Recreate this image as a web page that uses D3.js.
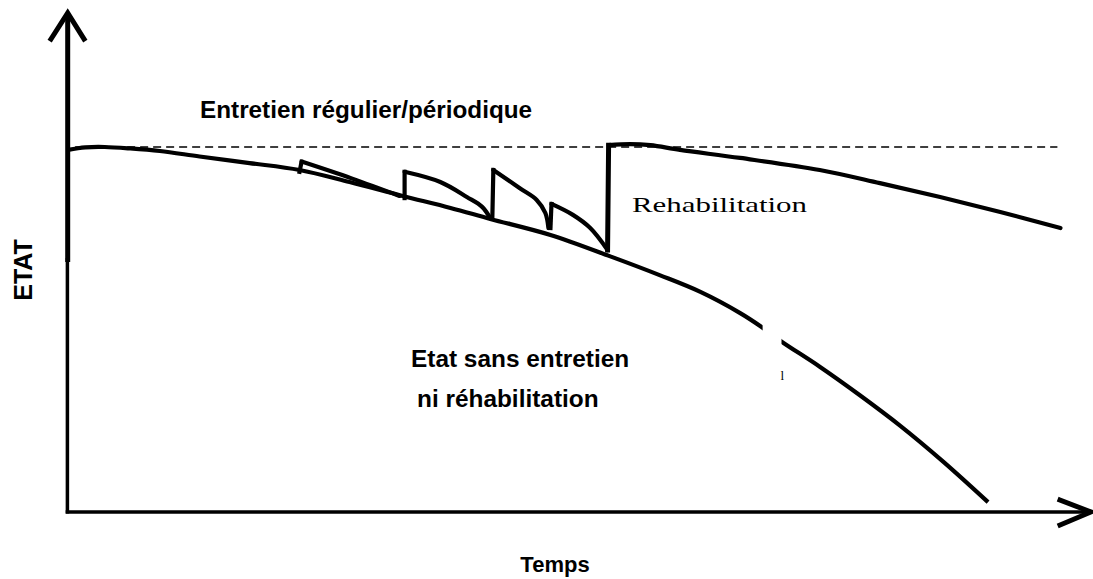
<!DOCTYPE html>
<html>
<head>
<meta charset="utf-8">
<script src="https://cdn.jsdelivr.net/npm/d3@7/dist/d3.min.js"></script>
<style>
  html, body { margin: 0; padding: 0; background: #fff; }
  svg { display: block; }
</style>
</head>
<body>
<svg id="chart" width="1093" height="579"></svg>
<script>
// ---------- DATA (time 0-100, state 0-100) ----------
// Deterioration without maintenance or rehabilitation
const decayCurve = [
  [0, 99.2], [1.7, 99.9], [3.6, 100], [6.1, 99.6], [9.0, 98.9], [12.9, 97.4],
  [17.8, 95.6], [22.7, 93.7], [27.6, 90.4], [32.8, 86.6], [37.5, 83.3],
  [41.4, 80.3], [47.3, 75.9], [53.1, 70.1], [58.0, 64.9], [62.0, 60.3],
  [65.9, 54.5], [68.0, 50.7], [69.9, 46.8], [73.7, 39.8], [77.6, 32.05],
  [81.6, 23.6], [85.8, 13.8], [90.2, 2.7]
];
// Regular / periodic maintenance teeth: first point = bottom of jump, then top, then decline
const tooth1 = [[22.7, 93.2], [22.9, 96.0], [27.8, 91.4], [32.5, 86.6]];
const tooth2 = [[33.0, 86.0], [33.0, 93.2], [36.5, 90.4], [39.1, 86.3], [40.6, 83.6], [41.4, 80.5]];
const tooth3 = [[41.6, 80.3], [41.7, 93.7], [44.3, 88.7], [45.95, 85.5], [46.8, 81.9], [47.1, 77.8]];
const tooth4 = [[47.3, 77.8], [47.4, 84.4], [49.5, 81.4], [51.2, 77.8], [52.9, 71.8]];
// Rehabilitation: jump back to full state then slow decline
const rehabCurve = [[52.9, 71.8], [53.0, 100.5], [55.1, 100.8], [57.1, 100.5], [60.0, 99.2],
  [65.9, 97.0], [73.7, 93.7], [79.6, 90.1], [85.5, 86.3], [91.4, 82.2], [97.3, 77.8]];
// Reference level (dashed)
const referenceLevel = [[0.7, 100], [97.0, 100]];
// White erased patch on decay curve (time range)
const erasedPatch = [68.1, 69.95];

// Labels
const labels = {
  maintenance: "Entretien régulier/périodique",
  rehab: "Rehabilitation",
  noMaint1: "Etat sans entretien",
  noMaint2: "ni réhabilitation",
  yTitle: "ETAT",
  xTitle: "Temps"
};

// ---------- SCALES ----------
const svg = d3.select("#chart");
const x = d3.scaleLinear().domain([0, 100]).range([68, 1088]);
const y = d3.scaleLinear().domain([0, 100]).range([512, 147]);

const curve = d3.line().x(d => x(d[0])).y(d => y(d[1])).curve(d3.curveCatmullRom.alpha(0.5));
const straight = d3.line().x(d => x(d[0])).y(d => y(d[1]));

// ---------- AXES ----------
const x0 = x.range()[0], x1 = x.range()[1];
const yb = y.range()[0];
svg.append("line").attr("x1", x0 - 0.3).attr("x2", x0 - 0.3).attr("y1", 14).attr("y2", 262)
  .attr("stroke", "#000").attr("stroke-width", 5);
svg.append("line").attr("x1", x0 - 0.6).attr("x2", x0 - 0.6).attr("y1", 258).attr("y2", yb + 1.5)
  .attr("stroke", "#000").attr("stroke-width", 3.5);
svg.append("line").attr("x1", x0 - 2.3).attr("x2", x1 + 2).attr("y1", yb).attr("y2", yb)
  .attr("stroke", "#000").attr("stroke-width", 3.4);
svg.append("path").attr("d", `M${x0 - 17},39 L${x0 - 0.3},13 L${x0 + 16},39`)
  .attr("fill", "none").attr("stroke", "#000").attr("stroke-width", 5).attr("stroke-linecap", "square");
svg.append("path").attr("d", `M${x1 - 28},${yb - 12} L${x1 + 3},${yb} L${x1 - 28},${yb + 13}`)
  .attr("fill", "none").attr("stroke", "#000").attr("stroke-width", 5).attr("stroke-linecap", "square");

// ---------- MARKS ----------
svg.append("path").attr("d", straight(referenceLevel))
  .attr("fill", "none").attr("stroke", "#000").attr("stroke-width", 1.6).attr("stroke-dasharray", "8,5");

svg.append("path").attr("d", curve(decayCurve))
  .attr("fill", "none").attr("stroke", "#000").attr("stroke-width", 4.2).attr("stroke-linejoin", "round");

svg.append("rect").attr("x", x(erasedPatch[0])).attr("width", x(erasedPatch[1]) - x(erasedPatch[0]))
  .attr("y", y(55)).attr("height", y(30) - y(55)).attr("fill", "#fff");
svg.append("text").attr("x", x(erasedPatch[1]) - 1).attr("y", 380).attr("fill", "#000")
  .attr("font-family", "Liberation Serif").attr("font-size", 13).text("l");

[tooth1, tooth2, tooth3, tooth4, rehabCurve].forEach((t, i) => {
  svg.append("path").attr("d", straight(t.slice(0, 2)))
    .attr("fill", "none").attr("stroke", "#000").attr("stroke-width", i === 4 ? 5 : 4.2)
    .attr("stroke-linecap", "square");
  svg.append("path").attr("d", curve(t.slice(1)))
    .attr("fill", "none").attr("stroke", "#000").attr("stroke-width", 4.2)
    .attr("stroke-linejoin", "round").attr("stroke-linecap", "round");
});

// ---------- TEXT ----------
const sans = "'Liberation Sans', Arial, sans-serif";
svg.append("text").attr("x", 200).attr("y", 118).attr("font-family", sans)
  .attr("font-weight", "bold").attr("font-size", 24.3).text(labels.maintenance);
svg.append("text").attr("x", 632).attr("y", 212).attr("font-family", "'Liberation Serif', 'Times New Roman', serif")
  .attr("font-size", 22).attr("textLength", 175).attr("lengthAdjust", "spacingAndGlyphs").text(labels.rehab);
svg.append("text").attr("x", 411).attr("y", 367).attr("font-family", sans)
  .attr("font-weight", "bold").attr("font-size", 24.4).text(labels.noMaint1);
svg.append("text").attr("x", 417).attr("y", 407).attr("font-family", sans)
  .attr("font-weight", "bold").attr("font-size", 24.4).text(labels.noMaint2);
svg.append("text").attr("transform", "translate(32,270) rotate(-90)").attr("text-anchor", "middle")
  .attr("font-family", sans).attr("font-weight", "bold").attr("font-size", 25).text(labels.yTitle);
svg.append("text").attr("x", 555).attr("y", 572).attr("text-anchor", "middle").attr("font-family", sans)
  .attr("font-weight", "bold").attr("font-size", 22).text(labels.xTitle);
</script>
</body>
</html>
